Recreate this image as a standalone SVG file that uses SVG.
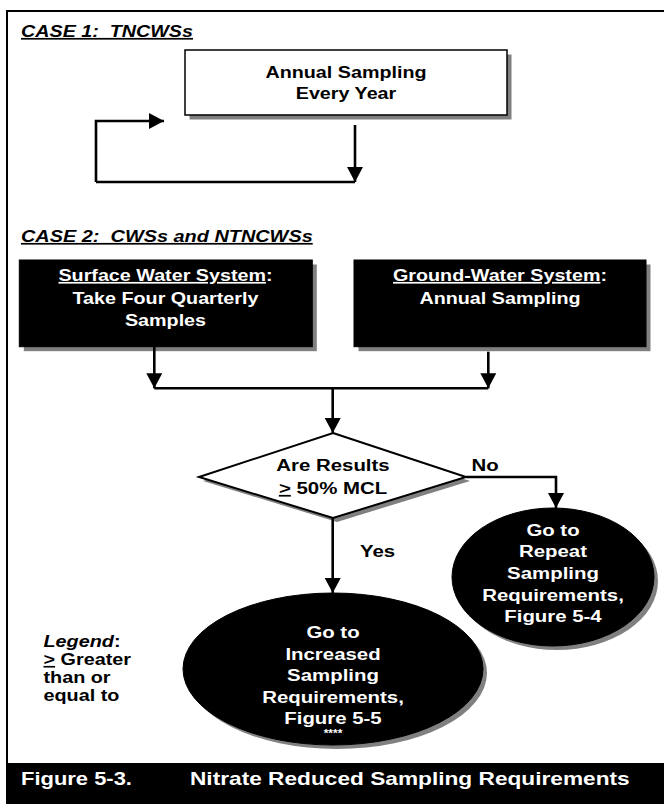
<svg xmlns="http://www.w3.org/2000/svg" width="664" height="804" viewBox="0 0 664 804">
  <defs>
    <marker id="arrow" markerUnits="userSpaceOnUse" markerWidth="16" markerHeight="16" refX="15" refY="8" orient="auto">
      <path d="M0,0 L15,8 L0,16 z" fill="#000"/>
    </marker>
    <style>
      .t { font-family: "Liberation Sans", Arial, sans-serif; font-weight: bold; font-size: 17px; fill: #000; }
      .w { fill: #fff; }
      .c { text-anchor: middle; }
      .hd { font-style: italic; text-decoration: underline; }
      .ul { text-decoration: underline; }
      .it { font-style: italic; }
      .shadow { fill: #808080; stroke: none; }
      .box { fill: #fff; stroke: #000; stroke-width: 1.5; }
      .dark { fill: #000; stroke: #000; stroke-width: 1; }
      .frame { stroke: #000; stroke-width: 2; fill: none; }
      .link { fill: none; stroke: #000; stroke-width: 2.6; }
      .arrowed { marker-end: url(#arrow); }
    </style>
  </defs>

  <rect width="664" height="804" fill="#fff"/>

  <!-- outer frame and caption bar -->
  <g id="frame">
    <path class="frame" d="M7,763 V11 H664"/>
    <rect x="6" y="763" width="658" height="41" fill="#000"/>
    <text class="t w" transform="translate(21 785) scale(1.22 1)" style="font-size:18px">Figure 5-3.</text>
    <text class="t w" transform="translate(190 785) scale(1.26 1)" style="font-size:18px">Nitrate Reduced Sampling Requirements</text>
  </g>

  <!-- section headings -->
  <g id="case1-heading">
    <text class="t hd" transform="translate(21 37) scale(1.16 1)">CASE 1:&#160; TNCWSs</text>
  </g>
  <g id="case2-heading">
    <text class="t hd" transform="translate(21 242) scale(1.17 1)">CASE 2:&#160; CWSs and NTNCWSs</text>
  </g>

  <!-- Case 1: annual sampling loop -->
  <g id="annual-every-year">
    <rect class="shadow" x="189.5" y="54.5" width="322" height="65"/>
    <rect class="box" x="185" y="50" width="322" height="65"/>
    <text class="t c" transform="translate(346 78) scale(1.16 1)">Annual Sampling</text>
    <text class="t c" transform="translate(346 99) scale(1.16 1)">Every Year</text>
  </g>

  <!-- Case 2: system types -->
  <g id="surface-water">
    <rect class="shadow" x="23.8" y="264.5" width="293" height="86.7"/>
    <rect class="dark" x="19.3" y="260" width="293" height="86.7"/>
    <text class="t c w" transform="translate(165.5 281) scale(1.16 1)"><tspan class="ul">Surface Water System</tspan>:</text>
    <text class="t c w" transform="translate(165.5 303.5) scale(1.16 1)">Take Four Quarterly</text>
    <text class="t c w" transform="translate(165.5 326) scale(1.16 1)">Samples</text>
  </g>

  <g id="ground-water">
    <rect class="shadow" x="358.5" y="264.5" width="292" height="86.7"/>
    <rect class="dark" x="354" y="260" width="292" height="86.7"/>
    <text class="t c w" transform="translate(500 281) scale(1.16 1)"><tspan class="ul">Ground-Water System</tspan>:</text>
    <text class="t c w" transform="translate(500 303.5) scale(1.16 1)">Annual Sampling</text>
  </g>

  <!-- decision -->
  <g id="decision">
    <polygon class="shadow" points="337,437 470,481 337,522 203,481"/>
    <polygon class="box" style="stroke-width:2" points="333,433 466,477 333,518 199,477"/>
    <text class="t c" transform="translate(333 470.5) scale(1.2 1)">Are Results</text>
    <text class="t c" transform="translate(333 494) scale(1.2 1)"><tspan class="ul">&gt;</tspan> 50% MCL</text>
  </g>

  <!-- outcomes -->
  <g id="repeat-sampling">
    <ellipse class="shadow" cx="557" cy="581" rx="101" ry="69"/>
    <ellipse class="dark" cx="553" cy="577" rx="101" ry="69"/>
    <text class="t c w" transform="translate(553 536) scale(1.2 1)">Go to</text>
    <text class="t c w" transform="translate(553 557) scale(1.2 1)">Repeat</text>
    <text class="t c w" transform="translate(553 579) scale(1.2 1)">Sampling</text>
    <text class="t c w" transform="translate(553 600.5) scale(1.2 1)">Requirements,</text>
    <text class="t c w" transform="translate(553 621.5) scale(1.2 1)">Figure 5-4</text>
  </g>

  <g id="increased-sampling">
    <ellipse class="shadow" cx="337" cy="673" rx="150" ry="76"/>
    <ellipse class="dark" cx="333" cy="669" rx="150" ry="76"/>
    <text class="t c w" transform="translate(333 638) scale(1.2 1)">Go to</text>
    <text class="t c w" transform="translate(333 659.5) scale(1.2 1)">Increased</text>
    <text class="t c w" transform="translate(333 681) scale(1.2 1)">Sampling</text>
    <text class="t c w" transform="translate(333 702.5) scale(1.2 1)">Requirements,</text>
    <text class="t c w" transform="translate(333 724) scale(1.2 1)">Figure 5-5</text>
    <text class="t c w" transform="translate(333 737) scale(1.2 1)" style="font-size:10px">****</text>
  </g>

  <!-- legend -->
  <g id="legend">
    <text class="t" transform="translate(43.5 647) scale(1.2 1)" style="font-size:16.5px"><tspan class="it">Legend</tspan>:</text>
    <text class="t" transform="translate(43.5 665) scale(1.2 1)" style="font-size:16.5px"><tspan class="ul">&gt;</tspan> Greater</text>
    <text class="t" transform="translate(43.5 683) scale(1.2 1)" style="font-size:16.5px">than or</text>
    <text class="t" transform="translate(43.5 701) scale(1.2 1)" style="font-size:16.5px">equal to</text>
  </g>

  <!-- connectors -->
  <g id="connectors">
    <path class="link arrowed" d="M96,182 V121 H164"/>
    <path class="link arrowed" d="M355,125 V182"/>
    <path class="link" d="M355,182 H96"/>
    <path class="link arrowed" d="M154.3,346.7 V388.3"/>
    <path class="link arrowed" d="M488.3,351.7 V388.3"/>
    <path class="link" d="M154.3,388.3 H488.3"/>
    <path class="link arrowed" d="M332.7,388.3 V433"/>
    <path class="link arrowed" d="M466,477 H556 V508"/>
    <path class="link arrowed" d="M332.7,518 V593"/>
    <text class="t" transform="translate(471.5 470.5) scale(1.2 1)">No</text>
    <text class="t" transform="translate(360 557) scale(1.2 1)">Yes</text>
  </g>
</svg>
